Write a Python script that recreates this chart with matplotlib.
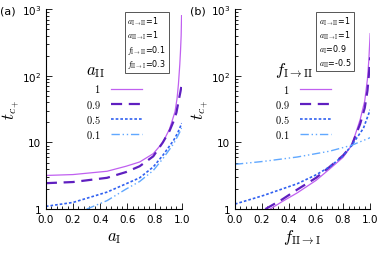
import numpy as np
import matplotlib
matplotlib.use('Agg')
import matplotlib.pyplot as plt
from matplotlib.ticker import AutoMinorLocator, LogLocator, NullFormatter

plt.rcParams['mathtext.fontset'] = 'cm'
plt.rcParams['font.family'] = 'DejaVu Sans'

# panel (a): t_c+ vs a_I for several a_II
a1_x = [0, 0.2, 0.45, 0.59, 0.69, 0.79, 0.86, 0.91, 0.95, 0.965, 0.975, 0.985, 0.99, 0.995, 0.998]
a1_y = [3.2, 3.3, 3.7, 4.4, 5.1, 6.8, 10, 16, 29, 46, 75, 148, 230, 400, 800]
a09_x = [0, 0.2, 0.45, 0.59, 0.69, 0.79, 0.86, 0.91, 0.94, 0.96, 0.98, 0.99, 0.997]
a09_y = [2.45, 2.55, 2.95, 3.6, 4.4, 6.2, 10, 15, 21, 28, 46, 58, 70]
a05_x = [0, 0.2, 0.45, 0.59, 0.69, 0.79, 0.86, 0.94, 0.97, 1.0]
a05_y = [1.1, 1.26, 1.8, 2.4, 2.95, 4.3, 6.4, 10.8, 14, 19.5]
a01_x = [0.3, 0.45, 0.59, 0.69, 0.79, 0.86, 0.94, 0.97, 1.0]
a01_y = [1.0, 1.34, 2.0, 2.6, 3.8, 5.7, 9.6, 12.5, 16.5]

# panel (b): t_c+ vs f_II->I for several f_I->II
f1_x = [0.26, 0.35, 0.46, 0.6, 0.7, 0.8, 0.864, 0.926, 0.96, 0.98, 0.99, 1.0]
f1_y = [1.0, 1.3, 1.75, 2.7, 4.0, 6.0, 9.1, 22, 42, 90, 170, 430]
f09_x = [0.225, 0.35, 0.46, 0.6, 0.7, 0.8, 0.864, 0.926, 0.96, 0.98, 0.99, 1.0]
f09_y = [1.0, 1.4, 1.96, 2.95, 4.3, 6.4, 9.1, 19, 33, 60, 100, 190]
f05_x = [0, 0.21, 0.46, 0.6, 0.7, 0.8, 0.864, 0.95, 1.0]
f05_y = [1.19, 1.6, 2.4, 3.27, 4.3, 6.3, 9.1, 16.3, 31]
f01_x = [0, 0.21, 0.46, 0.7, 0.864, 1.0]
f01_y = [4.7, 5.2, 6.05, 7.4, 9.1, 11.8]

labels = ['$1$', '$0.9$', '$0.5$', '$0.1$']
colors = ['#c060f0', '#5f1fc0', '#3060f0', '#60a8ff']
styles = ['-', (0, (5, 3)), (0, (1.6, 1.2)), (0, (6, 2, 1, 2, 1, 2))]
widths = [0.9, 1.6, 1.2, 1.0]

fig = plt.figure(figsize=(3.82, 2.55), dpi=100)
axa = fig.add_axes([0.120, 0.176, 0.356, 0.784])
axb = fig.add_axes([0.615, 0.176, 0.354, 0.784])

panels = [
    (axa, [(a1_x, a1_y), (a09_x, a09_y), (a05_x, a05_y), (a01_x, a01_y)],
     r'$a_{\rm I}$', r'$a_{\rm II}$',
     r'$a_{\rm I\to II}$=1' '\n' r'$a_{\rm II\to I}$=1' '\n' r'$f_{\rm I\to II}$=0.1' '\n' r'$f_{\rm II\to I}$=0.3',
     0.60, '(a)', 0.0),
    (axb, [(f1_x, f1_y), (f09_x, f09_y), (f05_x, f05_y), (f01_x, f01_y)],
     r'$f_{\rm II\to I}$', r'$f_{\rm I\to II}$',
     r'$a_{\rm I\to II}$=1' '\n' r'$a_{\rm II\to I}$=1' '\n' r'$a_{\rm I}$=0.9' '\n' r'$a_{\rm II}$=-0.5',
     0.62, '(b)', 0.497),
]

for ax, series, xlab, ltitle, info, bx, tag, tx in panels:
    for (x, y), lab, c, ls, lw in zip(series, labels, colors, styles, widths):
        ax.plot(x, y, color=c, linestyle=ls, linewidth=lw, label=lab)
    ax.set_yscale('log')
    ax.set_xlim(0, 1)
    ax.set_ylim(1, 1000)
    ax.set_yticks([1, 10, 100, 1000])
    ax.set_yticklabels(['1', '10', r'$\mathdefault{10^2}$', r'$\mathdefault{10^3}$'])
    ax.yaxis.set_minor_locator(LogLocator(base=10, subs=np.arange(2, 10)))
    ax.yaxis.set_minor_formatter(NullFormatter())
    ax.set_xticks([0, 0.2, 0.4, 0.6, 0.8, 1.0])
    ax.xaxis.set_minor_locator(AutoMinorLocator(5))
    ax.spines['top'].set_visible(False)
    ax.spines['right'].set_visible(False)
    ax.tick_params(which='both', direction='in', labelsize=7.5, width=0.6)
    ax.tick_params(which='major', length=4)
    ax.tick_params(which='minor', length=2)
    ax.set_xlabel(xlab, fontsize=12, labelpad=2)
    ax.set_ylabel(r'$t_{c_+}$', fontsize=12, labelpad=0)
    leg = ax.legend(loc='upper left', bbox_to_anchor=(0.24, 0.78), frameon=False,
                    markerfirst=False, fontsize=7.5, title=ltitle, title_fontsize=12,
                    alignment='left', handlelength=3.0, handletextpad=1.0,
                    labelspacing=0.3, borderpad=0.2)
    ax.text(bx, 0.975, info, transform=ax.transAxes, fontsize=5.8, va='top', ha='left',
            linespacing=1.2,
            bbox=dict(boxstyle='square,pad=0.3', facecolor='white', edgecolor='#555555', linewidth=0.7))
    fig.text(tx, 0.975, tag, fontsize=8, va='top', ha='left')

fig.savefig('out.png', dpi=100)
